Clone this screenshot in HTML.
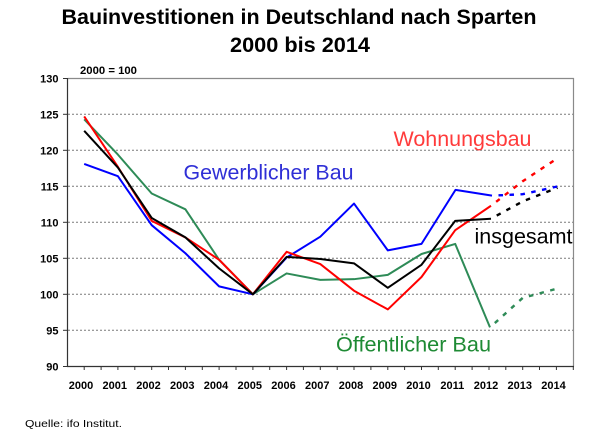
<!DOCTYPE html>
<html><head><meta charset="utf-8"><style>
html,body{margin:0;padding:0;background:#fff;}
svg{display:block;}
text{font-family:"Liberation Sans",Arial,sans-serif;}
</style></head><body>
<svg width="600" height="436" viewBox="0 0 600 436" xmlns="http://www.w3.org/2000/svg">
<rect width="600" height="436" fill="#fff"/>
<!-- Title -->
<text x="61.5" y="24" font-size="21" font-weight="bold" textLength="475" lengthAdjust="spacingAndGlyphs" fill="#000">Bauinvestitionen in Deutschland nach Sparten</text>
<text x="230" y="52" font-size="21" font-weight="bold" textLength="140" lengthAdjust="spacingAndGlyphs" fill="#000">2000 bis 2014</text>
<text x="80" y="74" font-size="11" font-weight="bold" textLength="57" lengthAdjust="spacingAndGlyphs" fill="#000">2000 = 100</text>

<!-- gridlines -->
<g stroke="#7a7a7a" stroke-width="1" stroke-dasharray="2,2">
<line x1="68" y1="114.3" x2="573" y2="114.3"/>
<line x1="68" y1="150.3" x2="573" y2="150.3"/>
<line x1="68" y1="186.3" x2="573" y2="186.3"/>
<line x1="68" y1="222.3" x2="573" y2="222.3"/>
<line x1="68" y1="258.3" x2="573" y2="258.3"/>
<line x1="68" y1="294.3" x2="573" y2="294.3"/>
<line x1="68" y1="330.3" x2="573" y2="330.3"/>
</g>
<!-- border top/right -->
<polyline points="67.5,78.5 573.5,78.5 573.5,366.5" fill="none" stroke="#8a8a8a" stroke-width="1.2"/>
<!-- axes -->
<line x1="67.5" y1="78" x2="67.5" y2="366.5" stroke="#333" stroke-width="1.2"/>
<line x1="67" y1="366.5" x2="574" y2="366.5" stroke="#333" stroke-width="1.2"/>
<!-- y ticks -->
<g stroke="#333" stroke-width="1">
<line x1="63" y1="78.5" x2="67.5" y2="78.5"/>
<line x1="63" y1="114.3" x2="67.5" y2="114.3"/>
<line x1="63" y1="150.3" x2="67.5" y2="150.3"/>
<line x1="63" y1="186.3" x2="67.5" y2="186.3"/>
<line x1="63" y1="222.3" x2="67.5" y2="222.3"/>
<line x1="63" y1="258.3" x2="67.5" y2="258.3"/>
<line x1="63" y1="294.3" x2="67.5" y2="294.3"/>
<line x1="63" y1="330.3" x2="67.5" y2="330.3"/>
<line x1="63" y1="366.5" x2="67.5" y2="366.5"/>
</g>
<!-- x ticks -->
<g stroke="#333" stroke-width="1">
<line x1="84.2" y1="366" x2="84.2" y2="370"/><line x1="101.1" y1="366" x2="101.1" y2="370"/>
<line x1="117.9" y1="366" x2="117.9" y2="370"/><line x1="134.8" y1="366" x2="134.8" y2="370"/>
<line x1="151.7" y1="366" x2="151.7" y2="370"/><line x1="168.5" y1="366" x2="168.5" y2="370"/>
<line x1="185.4" y1="366" x2="185.4" y2="370"/><line x1="202.3" y1="366" x2="202.3" y2="370"/>
<line x1="219.1" y1="366" x2="219.1" y2="370"/><line x1="236.0" y1="366" x2="236.0" y2="370"/>
<line x1="252.9" y1="366" x2="252.9" y2="370"/><line x1="269.7" y1="366" x2="269.7" y2="370"/>
<line x1="286.6" y1="366" x2="286.6" y2="370"/><line x1="303.4" y1="366" x2="303.4" y2="370"/>
<line x1="320.3" y1="366" x2="320.3" y2="370"/><line x1="337.2" y1="366" x2="337.2" y2="370"/>
<line x1="354.0" y1="366" x2="354.0" y2="370"/><line x1="370.9" y1="366" x2="370.9" y2="370"/>
<line x1="387.8" y1="366" x2="387.8" y2="370"/><line x1="404.6" y1="366" x2="404.6" y2="370"/>
<line x1="421.5" y1="366" x2="421.5" y2="370"/><line x1="438.3" y1="366" x2="438.3" y2="370"/>
<line x1="455.2" y1="366" x2="455.2" y2="370"/><line x1="472.1" y1="366" x2="472.1" y2="370"/>
<line x1="489.0" y1="366" x2="489.0" y2="370"/><line x1="505.8" y1="366" x2="505.8" y2="370"/>
<line x1="522.7" y1="366" x2="522.7" y2="370"/><line x1="539.5" y1="366" x2="539.5" y2="370"/>
<line x1="556.4" y1="366" x2="556.4" y2="370"/><line x1="573.3" y1="366" x2="573.3" y2="370"/>
</g>
<!-- y labels -->
<g font-size="11" font-weight="bold" text-anchor="end" fill="#000">
<text x="58.5" y="82.5">130</text>
<text x="58.5" y="118.3">125</text>
<text x="58.5" y="154.3">120</text>
<text x="58.5" y="190.3">115</text>
<text x="58.5" y="226.3">110</text>
<text x="58.5" y="262.3">105</text>
<text x="58.5" y="298.3">100</text>
<text x="58.5" y="334.3">95</text>
<text x="58.5" y="370.3">90</text>
</g>
<!-- x labels -->
<g font-size="11" font-weight="bold" text-anchor="middle" fill="#000">
<text x="81" y="389">2000</text><text x="114.8" y="389">2001</text>
<text x="148.5" y="389">2002</text><text x="182.3" y="389">2003</text>
<text x="216" y="389">2004</text><text x="249.8" y="389">2005</text>
<text x="283.5" y="389">2006</text><text x="317.3" y="389">2007</text>
<text x="351" y="389">2008</text><text x="384.8" y="389">2009</text>
<text x="418.5" y="389">2010</text><text x="452.3" y="389">2011</text>
<text x="486" y="389">2012</text><text x="519.8" y="389">2013</text>
<text x="553.5" y="389">2014</text>
</g>

<!-- series -->
<g fill="none" stroke-width="2" stroke-linejoin="round">
<polyline stroke="#2e8b57" points="84.2,119.34 117.9,154.62 151.7,193.5 185.4,209.34 219.1,259.74 252.9,294.3 286.6,273.42 320.3,279.9 354.0,279.18 387.8,274.86 421.5,253.98 455.2,243.9 490,327.42"/>
<polyline stroke="#0000ff" points="84.2,163.98 117.9,176.22 151.7,225.18 185.4,253.26 219.1,286.38 252.9,294.3 286.6,257.58 320.3,236.7 354.0,203.58 387.8,250.38 421.5,243.9 455.5,189.9 492,195.66"/>
<polyline stroke="#ff0000" points="84.2,116.46 117.9,166.86 151.7,220.86 185.4,237.42 219.1,259.74 252.9,294.3 286.6,251.82 320.3,264.06 354.0,290.7 387.8,309.42 421.5,277.02 455.2,230.22 491,205.74"/>
<polyline stroke="#000000" points="84.2,130.86 117.9,167.58 151.7,217.98 185.4,237.42 219.1,268.38 252.9,294.3 286.6,256.86 320.3,259.02 354.0,263.34 387.8,287.82 421.5,264.78 455.2,220.86 491,218.7"/>
</g>
<g fill="none" stroke-width="2.4" stroke-dasharray="4.5,6.5" stroke-dashoffset="4.5">
<polyline stroke="#2e8b57" points="490,327.42 522.7,297.9 557.5,288.54"/>
<polyline stroke="#000000" points="491,218.7 522.7,201.42 557.5,187.74"/>
<polyline stroke="#0000ff" points="492,195.66 522.7,194.22 558,186.3"/>
<polyline stroke="#ff0000" points="491,205.74 522.7,181.26 557.5,158.22"/>
</g>

<!-- series labels -->
<g font-size="21">
<text x="393.5" y="146" fill="#ff3b3b" textLength="138" lengthAdjust="spacingAndGlyphs">Wohnungsbau</text>
<text x="183.5" y="179.5" fill="#2f2fd6" textLength="170" lengthAdjust="spacingAndGlyphs">Gewerblicher Bau</text>
<text x="474.5" y="243.5" fill="#000" textLength="98" lengthAdjust="spacingAndGlyphs">insgesamt</text>
<text x="336" y="351.5" fill="#1e8a34" textLength="155" lengthAdjust="spacingAndGlyphs">Öffentlicher Bau</text>
</g>

<text x="25" y="427" font-size="10.5" fill="#000" textLength="97" lengthAdjust="spacingAndGlyphs">Quelle: ifo Institut.</text>
</svg>
</body></html>
